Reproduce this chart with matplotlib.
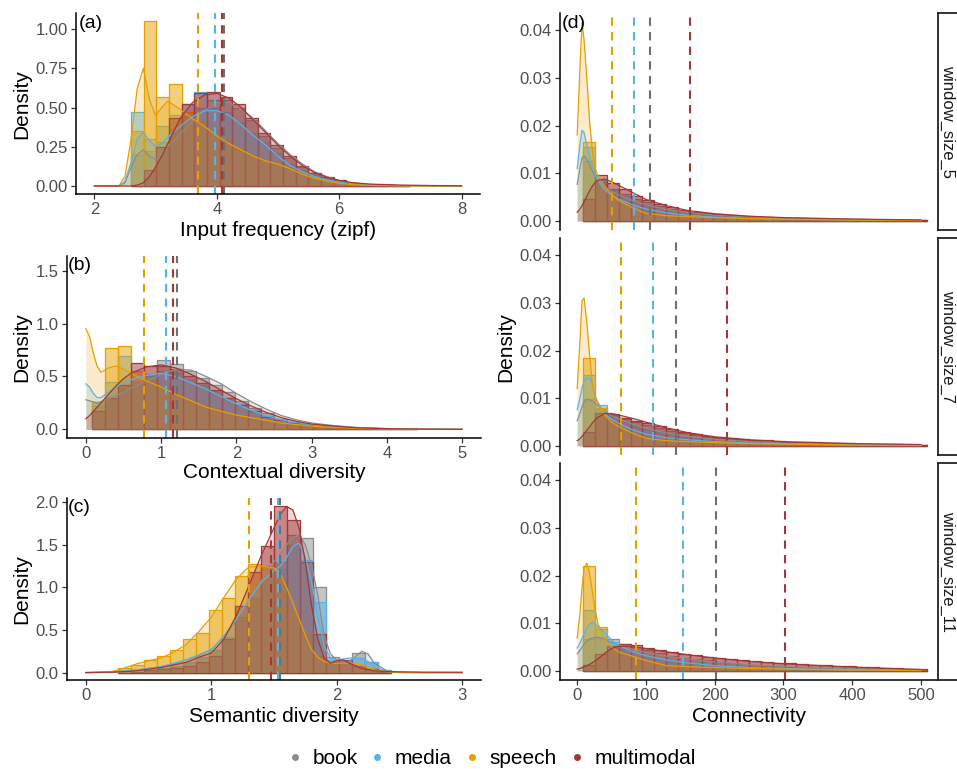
import matplotlib.pyplot as plt
import numpy as np
from matplotlib.colors import to_rgba
from matplotlib.lines import Line2D

plt.rcParams["font.family"] = ["Liberation Sans", "DejaVu Sans"]

# ------------------------------------------------------------
# groups / colours
# ------------------------------------------------------------
groups = ["book", "media", "speech", "multimodal"]
colors = ["#8C8C8C", "#56B4E9", "#E69F00", "#A23737"]
mean_colors = ["#6F6F6F", "#56B4E9", "#E69F00", "#A23737"]

# ------------------------------------------------------------
# (a) input frequency (zipf)
# ------------------------------------------------------------
freq_grid = [2.0, 2.4, 2.5, 2.6, 2.7, 2.8, 2.9, 3.0, 3.1, 3.2, 3.4, 3.6, 3.8, 4.0, 4.2,
             4.4, 4.6, 4.8, 5.0, 5.2, 5.4, 5.6, 5.8, 6.0, 6.2, 6.5, 7.0, 7.5, 8.0]
freq_book_dens = [0, 0, 0.02, 0.12, 0.2, 0.23, 0.19, 0.17, 0.2, 0.25, 0.33, 0.41, 0.48, 0.53, 0.53,
                  0.49, 0.43, 0.35, 0.27, 0.2, 0.14, 0.09, 0.06, 0.035, 0.02, 0.008, 0.002, 0.001, 0]
freq_media_dens = [0, 0, 0.03, 0.15, 0.3, 0.34, 0.29, 0.25, 0.27, 0.31, 0.38, 0.44, 0.48, 0.48, 0.45,
                   0.39, 0.32, 0.26, 0.19, 0.13, 0.09, 0.06, 0.04, 0.025, 0.015, 0.007, 0.002, 0.001, 0]
freq_speech_dens = [0, 0, 0.06, 0.3, 0.62, 0.75, 0.55, 0.45, 0.5, 0.54, 0.49, 0.43, 0.38, 0.32, 0.27,
                    0.23, 0.19, 0.16, 0.14, 0.11, 0.075, 0.05, 0.03, 0.017, 0.009, 0.004, 0.001, 0, 0]
freq_multi_dens = [0, 0, 0, 0, 0.005, 0.02, 0.06, 0.12, 0.19, 0.27, 0.43, 0.53, 0.58, 0.59, 0.56,
                   0.5, 0.42, 0.34, 0.26, 0.19, 0.13, 0.085, 0.055, 0.035, 0.022, 0.012, 0.006, 0.003, 0.001]
freq_bin_start, freq_bin_width = 2.6, 0.2069
freq_book_hist = [0.2, 0.22, 0.28, 0.36, 0.44, 0.5, 0.55, 0.55, 0.5, 0.42, 0.32,
                  0.24, 0.18, 0.123, 0.081, 0.053, 0.028, 0.015, 0.008, 0.004, 0.002, 0.001]
freq_media_hist = [0.47, 0.3, 0.38, 0.45, 0.52, 0.6, 0.5, 0.47, 0.41, 0.34, 0.28,
                   0.21, 0.14, 0.1, 0.07, 0.045, 0.028, 0.016, 0.009, 0.005, 0.003, 0.001]
freq_speech_hist = [0.35, 1.05, 0.57, 0.65, 0.47, 0.41, 0.35, 0.29, 0.24, 0.2, 0.17,
                    0.15, 0.12, 0.085, 0.06, 0.035, 0.02, 0.01, 0.005, 0.003, 0.001, 0.001]
freq_multi_hist = [0, 0.1, 0.25, 0.43, 0.52, 0.59, 0.6, 0.57, 0.52, 0.43, 0.34,
                   0.26, 0.19, 0.13, 0.085, 0.055, 0.035, 0.02, 0.013, 0.008, 0.005, 0.003]
freq_means = [4.11, 3.97, 3.70, 4.09]

# ------------------------------------------------------------
# (b) contextual diversity
# ------------------------------------------------------------
cd_grid = [0, 0.05, 0.1, 0.15, 0.2, 0.3, 0.4, 0.5, 0.6, 0.8, 1.0, 1.2, 1.4, 1.6, 1.8,
           2.0, 2.2, 2.4, 2.6, 2.8, 3.0, 3.3, 3.6, 4.0, 4.5, 5.0]
cd_book_dens = [0.28, 0.27, 0.26, 0.25, 0.26, 0.29, 0.32, 0.35, 0.39, 0.45, 0.52, 0.57, 0.56, 0.5, 0.43,
                0.34, 0.26, 0.19, 0.13, 0.09, 0.06, 0.035, 0.018, 0.007, 0.002, 0]
cd_media_dens = [0.43, 0.4, 0.34, 0.3, 0.3, 0.35, 0.4, 0.44, 0.47, 0.51, 0.53, 0.5, 0.44, 0.38, 0.31,
                 0.24, 0.18, 0.13, 0.09, 0.065, 0.045, 0.025, 0.014, 0.006, 0.002, 0]
cd_speech_dens = [0.95, 0.88, 0.72, 0.6, 0.54, 0.58, 0.6, 0.57, 0.53, 0.46, 0.4, 0.33, 0.27, 0.21, 0.17,
                  0.135, 0.11, 0.085, 0.06, 0.045, 0.03, 0.018, 0.01, 0.004, 0.001, 0]
cd_multi_dens = [0.1, 0.13, 0.17, 0.21, 0.25, 0.33, 0.41, 0.48, 0.53, 0.59, 0.61, 0.58, 0.52, 0.45, 0.37,
                 0.29, 0.22, 0.16, 0.11, 0.075, 0.05, 0.03, 0.015, 0.006, 0.002, 0]
cd_bin_start, cd_bin_width = 0.0862, 0.1724
cd_book_hist = [0.22, 0.3, 0.38, 0.42, 0.5, 0.66, 0.62, 0.55, 0.49, 0.42, 0.35, 0.27, 0.2,
                0.15, 0.1, 0.07, 0.05, 0.035, 0.022, 0.015, 0.01, 0.007, 0.004, 0.002, 0.001]
cd_media_hist = [0.26, 0.45, 0.69, 0.45, 0.52, 0.55, 0.53, 0.47, 0.42, 0.36, 0.3, 0.24, 0.18,
                 0.13, 0.09, 0.065, 0.045, 0.03, 0.02, 0.013, 0.009, 0.006, 0.004, 0.002, 0.001]
cd_speech_hist = [0.26, 0.77, 0.79, 0.55, 0.47, 0.4, 0.33, 0.27, 0.22, 0.18, 0.14, 0.12, 0.1,
                  0.08, 0.06, 0.045, 0.03, 0.02, 0.012, 0.008, 0.005, 0.003, 0.002, 0.001, 0.001]
cd_multi_hist = [0.17, 0.3, 0.42, 0.63, 0.6, 0.6, 0.57, 0.5, 0.44, 0.37, 0.3, 0.23, 0.17,
                 0.12, 0.085, 0.06, 0.04, 0.03, 0.02, 0.013, 0.009, 0.006, 0.004, 0.002, 0.001]
cd_means = [1.21, 1.07, 0.77, 1.16]

# ------------------------------------------------------------
# (c) semantic diversity
# ------------------------------------------------------------
sd_grid = [0, 0.2, 0.3, 0.4, 0.5, 0.6, 0.7, 0.8, 0.9, 1.0, 1.1, 1.2, 1.3, 1.4, 1.5, 1.55, 1.6,
           1.65, 1.7, 1.75, 1.8, 1.85, 1.9, 1.95, 2.0, 2.05, 2.1, 2.2, 2.25, 2.3, 2.4, 2.5, 2.7, 3.0]
sd_book_dens = [0, 0.005, 0.02, 0.03, 0.05, 0.07, 0.1, 0.15, 0.2, 0.27, 0.42, 0.62, 0.85, 1.08, 1.3, 1.4, 1.5,
                1.58, 1.62, 1.5, 1.26, 0.9, 0.43, 0.22, 0.15, 0.13, 0.13, 0.25, 0.22, 0.11, 0.02, 0.003, 0, 0]
sd_media_dens = [0, 0.005, 0.02, 0.03, 0.05, 0.07, 0.11, 0.15, 0.21, 0.27, 0.43, 0.63, 0.86, 1.06, 1.2, 1.25, 1.35,
                 1.48, 1.52, 1.36, 1.06, 0.67, 0.31, 0.17, 0.15, 0.16, 0.17, 0.17, 0.13, 0.07, 0.01, 0.002, 0, 0]
sd_speech_dens = [0, 0.01, 0.05, 0.1, 0.14, 0.17, 0.24, 0.33, 0.48, 0.65, 0.88, 1.1, 1.24, 1.25, 1.23, 1.16, 1.0,
                  0.82, 0.63, 0.44, 0.27, 0.18, 0.13, 0.11, 0.11, 0.11, 0.11, 0.09, 0.06, 0.03, 0.01, 0.002, 0, 0]
sd_multi_dens = [0, 0.005, 0.01, 0.02, 0.04, 0.06, 0.09, 0.12, 0.18, 0.23, 0.39, 0.67, 1.02, 1.38, 1.7, 1.86, 1.95,
                 1.91, 1.7, 1.3, 0.78, 0.39, 0.17, 0.11, 0.14, 0.15, 0.11, 0.05, 0.035, 0.02, 0.012, 0.008, 0.005, 0.004]
sd_bin_start, sd_bin_width = 0.2586, 0.1034
sd_book_hist = [0.0, 0.01, 0.03, 0.05, 0.07, 0.12, 0.17, 0.25, 0.4, 0.65, 0.88,
                1.1, 1.3, 1.62, 1.58, 1.0, 0.18, 0.13, 0.23, 0.12, 0.03]
sd_media_hist = [0.0, 0.01, 0.03, 0.05, 0.08, 0.12, 0.18, 0.26, 0.42, 0.62, 0.85,
                 1.08, 1.22, 1.5, 1.32, 0.83, 0.15, 0.15, 0.17, 0.13, 0.03]
sd_speech_hist = [0.05, 0.09, 0.15, 0.2, 0.27, 0.4, 0.46, 0.73, 0.88, 1.13, 1.27,
                  1.25, 1.1, 0.75, 0.45, 0.2, 0.12, 0.12, 0.08, 0.05, 0.02]
sd_multi_hist = [0.0, 0.01, 0.03, 0.04, 0.05, 0.08, 0.12, 0.2, 0.4, 0.78, 1.18,
                 1.49, 1.96, 1.79, 1.3, 0.45, 0.12, 0.15, 0.08, 0.04, 0.01]
sd_means = [1.545, 1.53, 1.30, 1.48]

# ------------------------------------------------------------
# (d) connectivity, one facet per window size
# ------------------------------------------------------------
conn_grid = [0, 4, 7, 10, 14, 18, 22, 26, 30, 40, 50, 60, 80, 100, 130, 160, 200, 250, 300, 400, 500]
conn_bin_start, conn_bin_width = 8.62, 17.24
window_labels = ["window_size_5", "window_size_7", "window_size_11"]

w5_book_dens = [0.0077, 0.011, 0.0132, 0.0137, 0.013, 0.0118, 0.0105, 0.0095, 0.0086, 0.0072, 0.0062,
                0.0055, 0.0043, 0.0034, 0.0024, 0.0018, 0.0012, 0.0008, 0.0006, 0.0003, 0.0001]
w5_media_dens = [0.011, 0.016, 0.019, 0.0185, 0.016, 0.0135, 0.0115, 0.01, 0.0086, 0.0065, 0.0055,
                 0.0046, 0.0034, 0.0025, 0.0017, 0.0012, 0.0008, 0.0005, 0.0004, 0.0002, 0.0001]
w5_speech_dens = [0.018, 0.032, 0.0415, 0.038, 0.03, 0.021, 0.015, 0.011, 0.0095, 0.0072, 0.0055,
                  0.0043, 0.0028, 0.0016, 0.0011, 0.0009, 0.0007, 0.0005, 0.0004, 0.0002, 0.0001]
w5_multi_dens = [0.0018, 0.0025, 0.0032, 0.004, 0.0052, 0.0063, 0.0073, 0.008, 0.0085, 0.0088, 0.0082,
                 0.0075, 0.006, 0.0045, 0.0032, 0.0022, 0.0015, 0.001, 0.0007, 0.0004, 0.0002]
w5_book_hist = [0.0125, 0.0082, 0.0068, 0.0057, 0.0047, 0.0039, 0.0032, 0.0026, 0.0021, 0.0017,
                0.0014, 0.0012, 0.001, 0.0009, 0.0008, 0.0007, 0.0006, 0.0005, 0.0005, 0.0004,
                0.0004, 0.0003, 0.0003, 0.0003, 0.0002, 0.0002, 0.0002, 0.0002, 0.0001]
w5_media_hist = [0.0155, 0.0085, 0.0065, 0.0052, 0.0042, 0.0034, 0.0027, 0.0022, 0.0018, 0.0014,
                 0.0012, 0.001, 0.0008, 0.0007, 0.0006, 0.0005, 0.0005, 0.0004, 0.0004, 0.0003,
                 0.0003, 0.0003, 0.0002, 0.0002, 0.0002, 0.0002, 0.0001, 0.0001, 0.0001]
w5_speech_hist = [0.0165, 0.0075, 0.005, 0.0035, 0.0025, 0.002, 0.0015, 0.0012, 0.001, 0.0009,
                  0.0008, 0.0007, 0.0006, 0.0005, 0.0005, 0.0004, 0.0004, 0.0003, 0.0003, 0.0003,
                  0.0002, 0.0002, 0.0002, 0.0002, 0.0001, 0.0001, 0.0001, 0.0001, 0.0001]
w5_multi_hist = [0.0045, 0.0097, 0.0079, 0.0066, 0.0053, 0.0043, 0.0035, 0.0029, 0.0023, 0.0019,
                 0.0016, 0.0014, 0.0012, 0.001, 0.0009, 0.0008, 0.0007, 0.0006, 0.0006, 0.0005,
                 0.0005, 0.0004, 0.0004, 0.0004, 0.0003, 0.0003, 0.0003, 0.0002, 0.0002]
w5_means = [106, 82, 50, 164]

w7_book_dens = [0.0053, 0.0068, 0.0082, 0.0092, 0.0098, 0.0097, 0.0094, 0.009, 0.0085, 0.0072, 0.0064,
                0.0057, 0.0046, 0.0037, 0.0027, 0.002, 0.0014, 0.0009, 0.0006, 0.0003, 0.0001]
w7_media_dens = [0.0076, 0.01, 0.0122, 0.0135, 0.0143, 0.0142, 0.0132, 0.0105, 0.0092, 0.0068, 0.0056,
                 0.0048, 0.0034, 0.0025, 0.0017, 0.0013, 0.0009, 0.0006, 0.0004, 0.0002, 0.0001]
w7_speech_dens = [0.012, 0.022, 0.0305, 0.031, 0.026, 0.019, 0.013, 0.0104, 0.009, 0.0065, 0.005,
                  0.0041, 0.0027, 0.0016, 0.0011, 0.0009, 0.0007, 0.0005, 0.0004, 0.0002, 0.0001]
w7_multi_dens = [0.0011, 0.0015, 0.002, 0.0025, 0.0033, 0.004, 0.0048, 0.0055, 0.006, 0.0068, 0.0068,
                 0.0065, 0.0058, 0.005, 0.0038, 0.0028, 0.0019, 0.0013, 0.0009, 0.0005, 0.0003]
w7_book_hist = [0.0098, 0.0078, 0.0065, 0.0057, 0.005, 0.0044, 0.0038, 0.0032, 0.0027, 0.0023,
                0.0019, 0.0016, 0.0014, 0.0012, 0.001, 0.0009, 0.0008, 0.0007, 0.0006, 0.0005,
                0.0005, 0.0004, 0.0004, 0.0003, 0.0003, 0.0003, 0.0002, 0.0002, 0.0002]
w7_media_hist = [0.0148, 0.0086, 0.0062, 0.005, 0.0042, 0.0036, 0.0029, 0.0024, 0.0019, 0.0016,
                 0.0013, 0.0011, 0.0009, 0.0008, 0.0007, 0.0006, 0.0005, 0.0005, 0.0004, 0.0004,
                 0.0003, 0.0003, 0.0003, 0.0002, 0.0002, 0.0002, 0.0002, 0.0001, 0.0001]
w7_speech_hist = [0.0185, 0.008, 0.005, 0.0035, 0.0025, 0.0018, 0.0014, 0.0011, 0.0009, 0.0008,
                  0.0007, 0.0006, 0.0005, 0.0005, 0.0004, 0.0004, 0.0003, 0.0003, 0.0003, 0.0002,
                  0.0002, 0.0002, 0.0002, 0.0001, 0.0001, 0.0001, 0.0001, 0.0001, 0.0001]
w7_multi_hist = [0.003, 0.007, 0.0068, 0.0059, 0.0052, 0.0048, 0.0042, 0.0035, 0.0029, 0.0024,
                 0.002, 0.0018, 0.0016, 0.0014, 0.0013, 0.0012, 0.0011, 0.0009, 0.0008, 0.0008,
                 0.0007, 0.0006, 0.0006, 0.0005, 0.0005, 0.0004, 0.0004, 0.0003, 0.0003]
w7_means = [144, 110, 64, 218]

w11_book_dens = [0.0036, 0.0043, 0.005, 0.0056, 0.0062, 0.0067, 0.0069, 0.007, 0.007, 0.0066, 0.006,
                 0.0055, 0.0046, 0.0039, 0.0031, 0.0025, 0.0019, 0.0013, 0.0009, 0.0004, 0.0002]
w11_media_dens = [0.0048, 0.0058, 0.0068, 0.0078, 0.009, 0.0098, 0.0101, 0.0099, 0.0094, 0.008, 0.0065,
                  0.0054, 0.0041, 0.0032, 0.0023, 0.0017, 0.0011, 0.0007, 0.0005, 0.0002, 0.0001]
w11_speech_dens = [0.0069, 0.012, 0.0175, 0.0215, 0.0226, 0.0205, 0.0168, 0.0128, 0.01, 0.0065, 0.0051,
                   0.004, 0.0031, 0.0022, 0.0011, 0.0009, 0.0007, 0.0005, 0.0004, 0.0002, 0.0001]
w11_multi_dens = [0.0004, 0.0005, 0.0007, 0.0009, 0.0011, 0.0014, 0.0017, 0.0021, 0.0025, 0.0037, 0.0047,
                  0.0052, 0.0051, 0.0047, 0.004, 0.0034, 0.0027, 0.002, 0.0015, 0.0008, 0.0003]
w11_book_hist = [0.0068, 0.0072, 0.0066, 0.0057, 0.005, 0.0043, 0.0037, 0.0032, 0.0028, 0.0025,
                 0.0022, 0.0019, 0.0017, 0.0015, 0.0013, 0.0011, 0.001, 0.0009, 0.0008, 0.0007,
                 0.0006, 0.0005, 0.0005, 0.0004, 0.0004, 0.0003, 0.0003, 0.0002, 0.0002]
w11_media_hist = [0.0128, 0.0088, 0.006, 0.0046, 0.0037, 0.003, 0.0025, 0.002, 0.0017, 0.0014,
                  0.0011, 0.0009, 0.0008, 0.0007, 0.0006, 0.0005, 0.0005, 0.0004, 0.0004, 0.0003,
                  0.0003, 0.0003, 0.0002, 0.0002, 0.0002, 0.0002, 0.0001, 0.0001, 0.0001]
w11_speech_hist = [0.022, 0.0092, 0.005, 0.0033, 0.0028, 0.0022, 0.0015, 0.0011, 0.0009, 0.0008,
                   0.0007, 0.0006, 0.0005, 0.0005, 0.0004, 0.0004, 0.0003, 0.0003, 0.0003, 0.0002,
                   0.0002, 0.0002, 0.0002, 0.0001, 0.0001, 0.0001, 0.0001, 0.0001, 0.0001]
w11_multi_hist = [0.0012, 0.0035, 0.0052, 0.0056, 0.0055, 0.0049, 0.0044, 0.004, 0.0036, 0.0033,
                  0.003, 0.0027, 0.0025, 0.0023, 0.0021, 0.0019, 0.0017, 0.0016, 0.0014, 0.0013,
                  0.0012, 0.0011, 0.001, 0.0009, 0.0008, 0.0007, 0.0006, 0.0005, 0.0004]
w11_means = [202, 154, 86, 302]


# ------------------------------------------------------------
# helpers
# ------------------------------------------------------------
W, H = 957, 769
fig = plt.figure(figsize=(W / 100, H / 100), dpi=100)


def px_axes(x0, y0, x1, y1):
    return fig.add_axes([x0 / W, 1 - y1 / H, (x1 - x0) / W, (y1 - y0) / H])


def px_text(x, y, s, **kw):
    return fig.text(x / W, 1 - y / H, s, **kw)


def draw_panel(ax, grid, dens, start, width, hists, means):
    for h, c in zip(hists, colors):
        left = start + width * np.arange(len(h))
        ax.bar(left, h, width=width, align="edge", color=to_rgba(c, 0.5),
               edgecolor=c, linewidth=0.9)
    for d, c in zip(dens, colors):
        ax.fill_between(grid, d, color=c, alpha=0.2, linewidth=0)
        ax.plot(grid, d, color=c, linewidth=0.9)
    for m, c in zip(means, mean_colors):
        ax.axvline(m, color=c, linewidth=1.5, dashes=(4, 3))


def style(ax, xlim, ylim, xticks, yticks, ylabels, show_x=True):
    ax.set_xlim(xlim)
    ax.set_ylim(ylim)
    ax.spines["top"].set_visible(False)
    ax.spines["right"].set_visible(False)
    ax.spines["left"].set_linewidth(1.1)
    ax.spines["bottom"].set_linewidth(1.1)
    ax.set_yticks(yticks, ylabels)
    ax.tick_params(length=3.5, width=0.9, color="#333333", labelsize=12,
                   labelcolor="#4D4D4D", pad=2.5)
    if show_x:
        ax.set_xticks(xticks, [str(t) for t in xticks])
    else:
        ax.spines["bottom"].set_visible(False)
        ax.set_xticks([])


# ------------------------------------------------------------
# left column
# ------------------------------------------------------------
ax_a = px_axes(76, 13, 480, 194)
draw_panel(ax_a, freq_grid,
           [freq_book_dens, freq_media_dens, freq_speech_dens, freq_multi_dens],
           freq_bin_start, freq_bin_width,
           [freq_book_hist, freq_media_hist, freq_speech_hist, freq_multi_hist], freq_means)
style(ax_a, (1.7, 8.3), (-0.051, 1.102), [2, 4, 6, 8],
      [0, 0.25, 0.5, 0.75, 1.0], ["0.00", "0.25", "0.50", "0.75", "1.00"])

ax_b = px_axes(67, 256, 481, 438)
draw_panel(ax_b, cd_grid,
           [cd_book_dens, cd_media_dens, cd_speech_dens, cd_multi_dens],
           cd_bin_start, cd_bin_width,
           [cd_book_hist, cd_media_hist, cd_speech_hist, cd_multi_hist], cd_means)
style(ax_b, (-0.25, 5.25), (-0.082, 1.64), [0, 1, 2, 3, 4, 5],
      [0, 0.5, 1.0, 1.5], ["0.0", "0.5", "1.0", "1.5"])

ax_c = px_axes(67, 498, 481, 680)
draw_panel(ax_c, sd_grid,
           [sd_book_dens, sd_media_dens, sd_speech_dens, sd_multi_dens],
           sd_bin_start, sd_bin_width,
           [sd_book_hist, sd_media_hist, sd_speech_hist, sd_multi_hist], sd_means)
style(ax_c, (-0.15, 3.15), (-0.087, 2.05), [0, 1, 2, 3],
      [0, 0.5, 1.0, 1.5, 2.0], ["0.0", "0.5", "1.0", "1.5", "2.0"])

# ------------------------------------------------------------
# right column (facets)
# ------------------------------------------------------------
facet_rows = [(13, 230), (238, 455), (463, 680)]
facet_dens = [
    [w5_book_dens, w5_media_dens, w5_speech_dens, w5_multi_dens],
    [w7_book_dens, w7_media_dens, w7_speech_dens, w7_multi_dens],
    [w11_book_dens, w11_media_dens, w11_speech_dens, w11_multi_dens],
]
facet_hist = [
    [w5_book_hist, w5_media_hist, w5_speech_hist, w5_multi_hist],
    [w7_book_hist, w7_media_hist, w7_speech_hist, w7_multi_hist],
    [w11_book_hist, w11_media_hist, w11_speech_hist, w11_multi_hist],
]
facet_means = [w5_means, w7_means, w11_means]

for i, (y0, y1) in enumerate(facet_rows):
    ax = px_axes(560, y0, 938, y1)
    draw_panel(ax, conn_grid, facet_dens[i], conn_bin_start, conn_bin_width,
               facet_hist[i], facet_means[i])
    style(ax, (-25, 525), (-0.0019, 0.0436), [0, 100, 200, 300, 400, 500],
          [0, 0.01, 0.02, 0.03, 0.04], ["0.00", "0.01", "0.02", "0.03", "0.04"],
          show_x=(i == 2))
    strip = px_axes(938, y0, 995, y1)
    strip.set_xticks([])
    strip.set_yticks([])
    for s in strip.spines.values():
        s.set_linewidth(1.3)
        s.set_color("#222222")
    px_text(947.5, (y0 + y1) / 2, window_labels[i], rotation=270, fontsize=12,
            color="#1A1A1A", ha="center", va="center")

# ------------------------------------------------------------
# labels
# ------------------------------------------------------------
for lab, (x, y) in zip(["(a)", "(b)", "(c)", "(d)"],
                       [(79, 15), (68, 257), (68, 499), (562, 15)]):
    px_text(x, y, lab, fontsize=14, ha="left", va="top")

px_text(278, 230, "Input frequency (zipf)", fontsize=15, ha="center", va="center")
px_text(274, 472, "Contextual diversity", fontsize=15, ha="center", va="center")
px_text(274, 717, "Semantic diversity", fontsize=15, ha="center", va="center")
px_text(749, 717, "Connectivity", fontsize=15, ha="center", va="center")

for y in [104, 347, 589]:
    px_text(22, y, "Density", fontsize=15, rotation=90, ha="center", va="center")
px_text(506, 347, "Density", fontsize=15, rotation=90, ha="center", va="center")

handles = [Line2D([], [], marker="o", linestyle="", markersize=4, color=c) for c in colors]
fig.legend(handles, groups, loc="center", bbox_to_anchor=(492 / W, 1 - 759 / H), ncol=4,
           frameon=False, fontsize=15, handlelength=0.6, handletextpad=0.55,
           columnspacing=0.65, borderpad=0)

fig.savefig("out.png", dpi=100)
